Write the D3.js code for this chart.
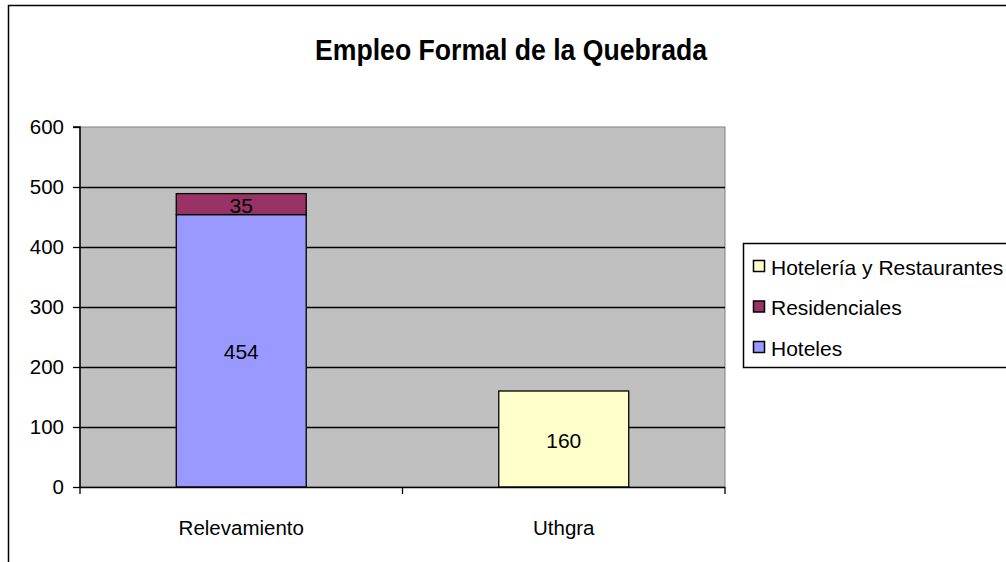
<!DOCTYPE html>
<html>
<head>
<meta charset="utf-8">
<script src="https://cdn.jsdelivr.net/npm/d3@7"></script>
<style>
  html, body { margin: 0; padding: 0; background: #fff; }
  svg { display: block; }
  text { font-family: "Liberation Sans", Arial, sans-serif; fill: #000; }
</style>
</head>
<body>
<svg id="chart" width="1006" height="562"></svg>
<script>
const title = "Empleo Formal de la Quebrada";
const categories = ["Relevamiento", "Uthgra"];
const seriesNames = ["Hoteles", "Residenciales", "Hotelería y Restaurantes"];
const seriesColors = ["#9999FF", "#993366", "#FFFFCC"];
const hoteles = [454, 0];
const residenciales = [35, 0];
const hoteleriaRestaurantes = [0, 160];
const yTicks = [0, 100, 200, 300, 400, 500, 600];

const svg = d3.select("#chart");
const plot = { left: 80, right: 725, top: 127, bottom: 487 };

// outer border
svg.append("rect").attr("x", 8.5).attr("y", 5.5).attr("width", 1010).attr("height", 570)
  .attr("fill", "#fff").attr("stroke", "#000").attr("stroke-width", 1.5);

// title
svg.append("text").attr("x", 511).attr("y", 60).attr("text-anchor", "middle")
  .attr("font-size", 29).attr("font-weight", "bold")
  .attr("textLength", 392).attr("lengthAdjust", "spacingAndGlyphs")
  .text(title);

const x = d3.scaleBand().domain(categories).range([plot.left, plot.right]).paddingInner(0.597).paddingOuter(0.2985);
const y = d3.scaleLinear().domain([0, 600]).range([plot.bottom, plot.top]);

// plot background
svg.append("rect").attr("x", plot.left).attr("y", plot.top)
  .attr("width", plot.right - plot.left).attr("height", plot.bottom - plot.top)
  .attr("fill", "#C0C0C0").attr("stroke", "#808080").attr("stroke-width", 1);

// gridlines
svg.append("g").selectAll("line").data(yTicks.filter(d => d > 0 && d < 600)).join("line")
  .attr("x1", plot.left).attr("x2", plot.right)
  .attr("y1", d => Math.round(y(d)) + 0.5).attr("y2", d => Math.round(y(d)) + 0.5)
  .attr("stroke", "#000").attr("stroke-width", 1.3);

// stacked data
const rows = categories.map((c, i) => ({
  cat: c,
  "Hoteles": hoteles[i],
  "Residenciales": residenciales[i],
  "Hotelería y Restaurantes": hoteleriaRestaurantes[i]
}));
const stack = d3.stack().keys(seriesNames)(rows);

stack.forEach((layer, li) => {
  layer.forEach(seg => {
    const v = seg[1] - seg[0];
    if (v <= 0) return;
    const bx = x(seg.data.cat), bw = x.bandwidth();
    svg.append("rect").attr("x", bx).attr("y", y(seg[1]))
      .attr("width", bw).attr("height", y(seg[0]) - y(seg[1]))
      .attr("fill", seriesColors[li]).attr("stroke", "#000").attr("stroke-width", 1.3);
    svg.append("text").attr("x", bx + bw / 2).attr("y", (y(seg[0]) + y(seg[1])) / 2 + 1)
      .attr("text-anchor", "middle").attr("dominant-baseline", "central")
      .attr("font-size", 21).text(v);
  });
});

// y axis
const yAxis = d3.axisLeft(y).tickValues(yTicks).tickSize(7).tickPadding(9);
const gy = svg.append("g").attr("transform", `translate(${plot.left},0)`).call(yAxis);
gy.select(".domain").attr("stroke", "#000").attr("stroke-width", 1.5).attr("d", `M-7,${plot.top}H0V${plot.bottom}`);
gy.selectAll(".tick line").attr("stroke", "#000").attr("stroke-width", 1.3);
gy.selectAll(".tick text").attr("font-size", 20.5).attr("font-family", "Liberation Sans, Arial, sans-serif").attr("fill", "#000");

// x axis
const gx = svg.append("g").attr("transform", `translate(0,${plot.bottom})`);
gx.append("line").attr("x1", plot.left).attr("x2", plot.right).attr("y1", 0.5).attr("y2", 0.5)
  .attr("stroke", "#000").attr("stroke-width", 1.5);
const boundaries = [plot.left, (plot.left + plot.right) / 2, plot.right];
gx.selectAll("line.tk").data(boundaries).join("line").attr("class", "tk")
  .attr("x1", d => d).attr("x2", d => d).attr("y1", 0).attr("y2", 7)
  .attr("stroke", "#000").attr("stroke-width", 1.3);
gx.selectAll("text").data(categories).join("text")
  .attr("x", d => x(d) + x.bandwidth() / 2).attr("y", 48)
  .attr("text-anchor", "middle").attr("font-size", 20.5).text(d => d);

// legend
const lg = svg.append("g");
lg.append("rect").attr("x", 743.5).attr("y", 243.5).attr("width", 300).attr("height", 124)
  .attr("fill", "#fff").attr("stroke", "#000").attr("stroke-width", 1.5);
const legendOrder = [2, 1, 0];
const legendY = d3.scalePoint().domain(legendOrder).range([266, 347]);
legendOrder.forEach(i => {
  const cy = legendY(i);
  lg.append("rect").attr("x", 753.5).attr("y", cy - 5.5).attr("width", 11).attr("height", 11)
    .attr("fill", seriesColors[i]).attr("stroke", "#000").attr("stroke-width", 1.5);
  lg.append("text").attr("x", 771).attr("y", cy + 1).attr("dominant-baseline", "central")
    .attr("font-size", 21).text(seriesNames[i]);
});
</script>
</body>
</html>
